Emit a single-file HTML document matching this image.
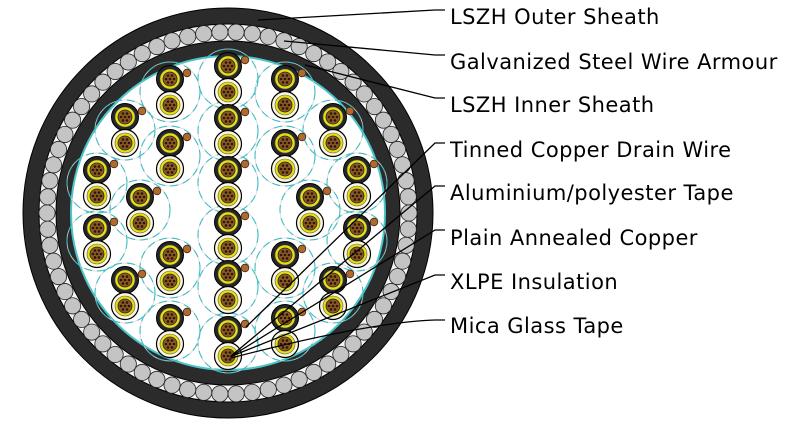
<!DOCTYPE html>
<html><head><meta charset="utf-8"><style>
html,body{margin:0;padding:0;background:#fff;width:785px;height:425px;overflow:hidden}
svg{display:block}
text{font-family:"DejaVu Sans","Liberation Sans",sans-serif;font-size:21px;letter-spacing:0.45px;fill:#000}
</style></head><body>
<svg id="s" width="785" height="425" viewBox="0 0 785 425" xmlns="http://www.w3.org/2000/svg">
<circle cx="228" cy="213" r="205" fill="#2b2b2b" stroke="#000" stroke-width="1"/>
<circle cx="228" cy="213" r="189" fill="#f4f4f4" stroke="#000" stroke-width="1"/>
<g id="arm"></g>
<circle cx="228" cy="213" r="172" fill="#2b2b2b" stroke="#000" stroke-width="1"/>
<circle cx="228" cy="213" r="157" fill="#fff" stroke="#4cc4c8" stroke-width="2"/>
<g id="pairs"></g>
<g stroke="#000" stroke-width="1.3" fill="none">
<polyline points="445,10 435,10 258,20"/>
<polyline points="445,55 435,55 284,41"/>
<polyline points="445,98 435,98 305,65"/>
<polyline points="445,143 435,143 246,327"/>
<polyline points="445,186 435,186 231,356"/>
<polyline points="445,230 435,230 230,357"/>
<polyline points="445,275 435,275 232,356"/>
<path d="M445,320 L435,320 C380,322 300,340 231,358"/>
</g>
<text x="450" y="24">LSZH Outer Sheath</text>
<text x="450" y="69">Galvanized Steel Wire Armour</text>
<text x="450" y="112">LSZH Inner Sheath</text>
<text x="450" y="157">Tinned Copper Drain Wire</text>
<text x="450" y="200">Aluminium/polyester Tape</text>
<text x="450" y="245">Plain Annealed Copper</text>
<text x="450" y="289">XLPE Insulation</text>
<text x="450" y="333">Mica Glass Tape</text>
</svg>
<script>
var NS="http://www.w3.org/2000/svg";
function el(p,t,a){var e=document.createElementNS(NS,t);for(var k in a)e.setAttribute(k,a[k]);p.appendChild(e);return e;}
var arm=document.getElementById('arm');
var n=70;
for(var i=0;i<n;i++){var a=i*2*Math.PI/n;el(arm,'circle',{cx:228+181*Math.cos(a),cy:213+181*Math.sin(a),r:8.1,fill:'#c4c4c4',stroke:'#222','stroke-width':0.8});}
var P=[[228,66],[228,118],[228,170],[228,222],[228,274],[228,330],
[170,79],[285,79],[125,117],[333,117],[170,143],[285,143],[97,170],[357,170],
[140,197],[310,197],[97,228],[357,228],[170,255],[285,255],[125,280],[333,280],[170,318],[285,318]];
var g=document.getElementById('pairs');
P.forEach(function(p){el(g,'circle',{cx:p[0],cy:p[1]+13,r:30,fill:'none',stroke:'#d8d8d8','stroke-width':0.8});
el(g,'circle',{cx:p[0],cy:p[1]+13,r:30,fill:'none',stroke:'#3fbcc2','stroke-width':1.1,'stroke-dasharray':'8,5'});});
function cond(x,y){el(g,'circle',{cx:x,cy:y,r:7,fill:'#8a5a2a',stroke:'#3a2000','stroke-width':0.8});
for(var k=0;k<6;k++){var a=k*Math.PI/3;el(g,'circle',{cx:x+4*Math.cos(a),cy:y+4*Math.sin(a),r:1.3,fill:'#2a1800'});}
el(g,'circle',{cx:x,cy:y,r:1.3,fill:'#2a1800'});}
P.forEach(function(p){var x=p[0],y=p[1];
el(g,'circle',{cx:x,cy:y,r:13.5,fill:'#262626',stroke:'#000','stroke-width':1});
el(g,'circle',{cx:x,cy:y,r:10,fill:'#e0e01a',stroke:'#555','stroke-width':0.6});
cond(x,y);
el(g,'circle',{cx:x,cy:y+26,r:13.5,fill:'#fbf6e2',stroke:'#000','stroke-width':1.2});
el(g,'circle',{cx:x,cy:y+26,r:10,fill:'#e0e01a',stroke:'#555','stroke-width':0.6});
cond(x,y+26);
el(g,'circle',{cx:x+17,cy:y-6,r:3.8,fill:'#b06a30',stroke:'#4a2a10','stroke-width':0.8});
});
</script>
</body></html>
